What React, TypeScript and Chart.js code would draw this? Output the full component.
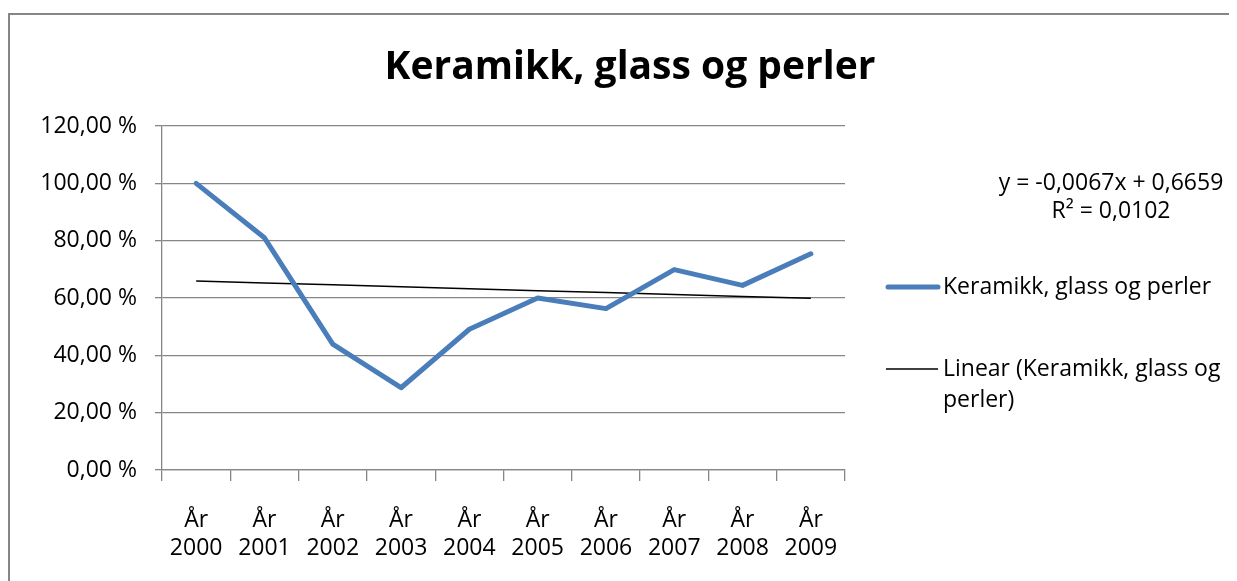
import React, { useEffect, useRef } from 'react';
import { Chart, registerables } from 'chart.js';

Chart.register(...registerables);

const years = ['2000', '2001', '2002', '2003', '2004', '2005', '2006', '2007', '2008', '2009'];
const categoryPrefix = 'År';
const values = [1.0, 0.81, 0.439, 0.287, 0.491, 0.6, 0.563, 0.699, 0.644, 0.754];
const trendSlope = -0.0067;
const trendIntercept = 0.6659;
const yTicks = [0, 0.2, 0.4, 0.6, 0.8, 1.0, 1.2];
const titleText = 'Keramikk, glass og perler';
const seriesName = 'Keramikk, glass og perler';
const trendName = ['Linear (Keramikk, glass og', 'perler)'];
const equationLines = ['y = -0,0067x + 0,6659', 'R² = 0,0102'];

const FONT = "'Open Sans', Lato, sans-serif";
const GRAY = '#868686';
const BLUE = '#4a7ebb';

const trendValues = years.map((_, i) => trendIntercept + trendSlope * (i + 1));

const overlayPlugin = {
  id: 'overlay',
  afterDraw(chart: any) {
    const ctx = chart.ctx as CanvasRenderingContext2D;
    ctx.save();
    // title
    ctx.fillStyle = '#000';
    ctx.font = `bold 39px ${FONT}`;
    ctx.textAlign = 'center';
    ctx.textBaseline = 'middle';
    ctx.fillText(titleText, 622, 60);
    // equation
    ctx.font = `23px ${FONT}`;
    ctx.fillText(equationLines[0], 1103, 175);
    ctx.fillText(equationLines[1], 1103, 203);
    // legend: series
    ctx.textAlign = 'left';
    ctx.strokeStyle = BLUE;
    ctx.lineWidth = 5;
    ctx.lineCap = 'round';
    ctx.beginPath();
    ctx.moveTo(880, 279);
    ctx.lineTo(930, 279);
    ctx.stroke();
    ctx.fillText(seriesName, 935, 279);
    // legend: trend
    ctx.strokeStyle = '#000';
    ctx.lineWidth = 1.5;
    ctx.lineCap = 'butt';
    ctx.beginPath();
    ctx.moveTo(878, 361);
    ctx.lineTo(930, 361);
    ctx.stroke();
    ctx.fillText(trendName[0], 935, 361);
    ctx.fillText(trendName[1], 935, 392);
    ctx.restore();
  },
};

export default function App() {
  const ref = useRef<HTMLCanvasElement | null>(null);
  useEffect(() => {
    if (!ref.current) return;
    const chart = new Chart(ref.current, {
      type: 'line',
      data: {
        labels: years.map((y) => [categoryPrefix, y]),
        datasets: [
          {
            label: seriesName,
            data: values,
            borderColor: BLUE,
            borderWidth: 5,
            pointRadius: 0,
            borderCapStyle: 'round',
            borderJoinStyle: 'round',
            tension: 0,
            fill: false,
          },
          {
            label: trendName.join(' '),
            data: trendValues,
            borderColor: '#000',
            borderWidth: 1.5,
            pointRadius: 0,
            tension: 0,
            fill: false,
          },
        ],
      },
      options: {
        animation: false,
        responsive: false,
        layout: { padding: { left: 0, right: 392, top: 118, bottom: 0 } },
        plugins: {
          legend: { display: false },
          title: { display: false },
          tooltip: { enabled: false },
        },
        scales: {
          x: {
            type: 'category',
            offset: true,
            afterFit: (scale: any) => {
              scale.height = 111;
            },
            grid: {
              offset: true,
              drawOnChartArea: false,
              drawTicks: true,
              tickLength: 11,
              color: GRAY,
              lineWidth: 1.3,
            },
            border: { display: true, color: GRAY, width: 1.3 },
            ticks: {
              color: '#000',
              font: { family: FONT, size: 23, lineHeight: 1.2 },
              padding: 26,
              maxRotation: 0,
              autoSkip: false,
            },
          },
          y: {
            min: 0,
            max: 1.2,
            afterFit: (scale: any) => {
              scale.width = 154;
            },
            afterBuildTicks: (scale: any) => {
              scale.ticks = yTicks.map((v) => ({ value: v }));
            },
            grid: {
              color: GRAY,
              lineWidth: 1.3,
              drawTicks: true,
              tickLength: 7,
            },
            border: { display: true, color: GRAY, width: 1.3 },
            ticks: {
              color: '#000',
              font: { family: FONT, size: 23 },
              padding: 18,
              callback: (v: any) => (Number(v) * 100).toFixed(2).replace('.', ',') + ' %',
            },
          },
        },
      },
      plugins: [overlayPlugin],
    } as any);
    return () => chart.destroy();
  }, []);

  return (
    <div style={{ position: 'relative', width: 1229, height: 573, overflow: 'hidden' }}>
      <div
        style={{
          position: 'absolute',
          left: 0,
          top: 5,
          width: 1300,
          height: 700,
          borderLeft: `2px solid ${GRAY}`,
          borderTop: `2px solid ${GRAY}`,
        }}
      />
      <canvas ref={ref} width={1229} height={573} style={{ position: 'absolute', left: 0, top: 0 }} />
    </div>
  );
}
